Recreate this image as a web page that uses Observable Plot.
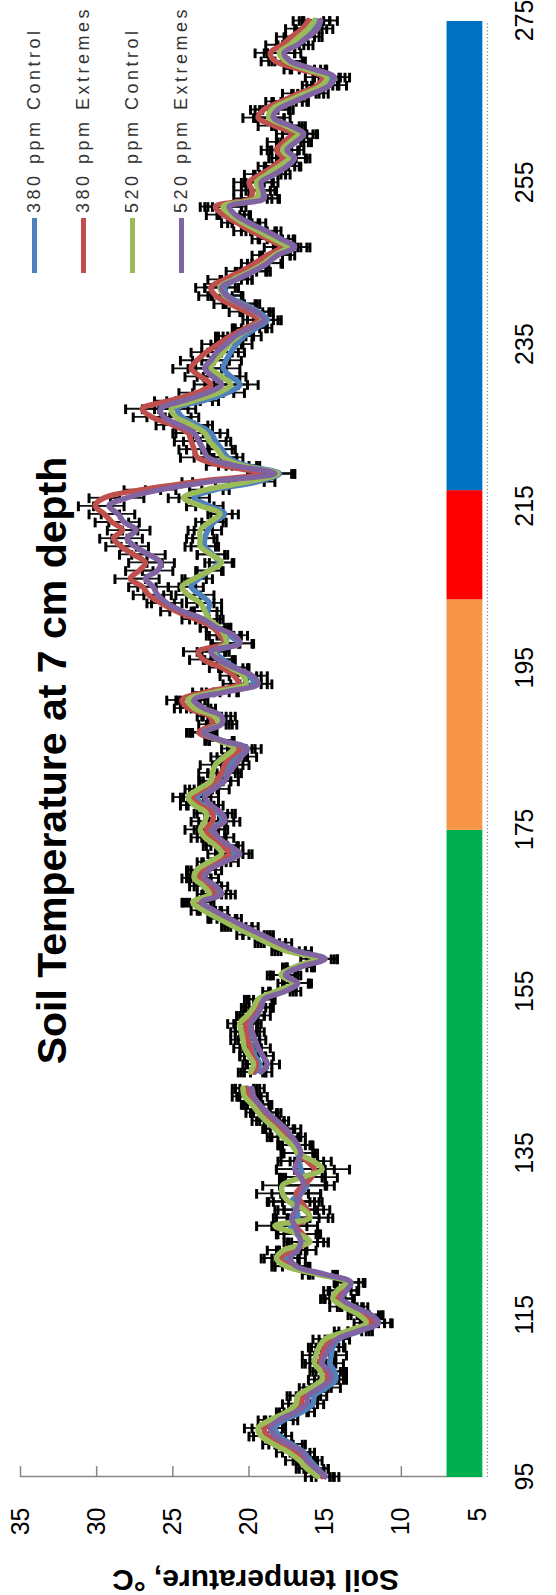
<!DOCTYPE html>
<html><head><meta charset="utf-8">
<script src="https://cdn.jsdelivr.net/npm/d3@7"></script>
<script src="https://cdn.jsdelivr.net/npm/@observablehq/plot@0.6"></script>
<style>
html,body{margin:0;padding:0;background:#fff;overflow:hidden;width:556px;height:1595px}
#rot{position:absolute;left:0;top:0;width:1595px;height:556px;transform-origin:0 0;transform:translate(0,1595px) rotate(-90deg);background:#fff}
#rot > svg{position:absolute;left:0;top:0}
#leg{position:absolute;left:1322px;top:10px;width:270px}
.lg-swatches{margin:0 !important;font-family:"Liberation Sans",Arial,sans-serif;font-size:18px;color:#333}
.lg-swatch{height:49px;display:flex;align-items:center;padding:0 !important}
.lg-swatch > svg{margin-right:5px !important}
.lg-swatch-label{overflow:visible !important;letter-spacing:3.5px}
</style></head>
<body><div id="rot"></div>
<script>
// ---- data ----
const title = "Soil Temperature at 7 cm depth";
const yTitle = "Soil temperature, \u00B0C";
const seriesNames = ["380 ppm Control", "380 ppm Extremes", "520 ppm Control", "520 ppm Extremes"];
const days = d3.range(95, 276); // day of year, 95 … 275
const xTicks = [95, 115, 135, 155, 175, 195, 215, 235, 255, 275];
const yTicks = [5, 10, 15, 20, 25, 30, 35];
const periodStart = [95, 175, 203.5, 217];
const periodEnd = [175, 203.5, 217, 275];

const t380Control = [
15.0,15.5,16.0,16.4,17.2,18.0,18.3,17.7,16.5,15.8,
15.7,14.9,14.3,14.4,14.7,14.6,14.5,14.1,12.7,11.6,
12.1,13.2,14.1,13.8,13.4,15.2,17.2,17.6,17.2,16.3,
16.9,17.3,16.8,16.9,17.2,16.6,16.2,16.4,16.6,16.7,
16.8,17.0,17.6,18.0,18.5,19.0,19.5,20.0,20.1,null,
19.6,19.3,19.6,19.8,20.0,20.1,20.2,19.8,19.4,19.2,
17.8,16.9,17.7,16.7,15.3,17.3,18.5,19.6,20.7,21.7,
22.6,23.3,22.1,22.6,23.2,23.0,22.1,21.0,21.6,22.3,
22.5,21.8,22.0,23.0,23.4,22.8,22.1,21.7,21.3,20.9,
20.5,21.8,23.0,21.9,22.1,23.3,23.8,21.8,19.7,20.0,
20.9,21.7,22.2,20.7,21.3,22.1,22.7,22.7,22.6,23.2,
23.8,23.3,22.6,22.0,22.4,22.9,22.9,22.7,22.3,21.6,
22.6,23.6,22.2,19.4,18.0,20.2,21.4,21.8,22.2,22.5,
23.4,24.4,24.7,23.0,21.4,20.6,21.2,21.7,21.5,21.2,
20.8,20.3,19.5,18.8,19.4,20.4,21.4,21.6,20.8,19.7,
18.8,18.2,17.2,18.2,19.2,20.2,21.0,21.6,19.3,19.2,
19.3,18.6,17.8,17.2,17.6,17.1,16.7,17.5,18.6,18.3,
17.3,16.1,15.0,14.7,16.1,17.5,17.9,17.1,16.5,15.9,
15.6];
const t380Extremes = [
15.2,15.9,16.4,16.9,17.9,18.8,19.0,18.3,17.1,16.6,
16.4,15.6,14.9,14.9,15.3,15.2,15.0,14.6,13.2,11.9,
12.4,13.4,14.1,13.8,13.4,15.2,17.3,17.9,17.2,16.1,
16.5,16.9,16.1,16.2,16.6,16.9,16.4,15.9,15.7,16.2,
16.8,17.0,17.6,18.0,18.6,19.0,19.5,20.0,20.2,null,
19.7,19.5,19.8,19.9,20.1,20.2,20.2,19.9,19.4,19.2,
17.9,16.9,17.6,16.7,15.2,17.2,18.4,19.5,20.6,21.7,
22.6,23.4,22.3,22.7,23.3,23.1,22.3,21.3,21.8,22.5,
22.8,22.4,22.4,23.2,23.7,23.0,22.2,21.8,21.6,21.2,
20.6,21.9,23.3,22.4,22.6,24.0,24.4,22.8,20.7,21.0,
21.8,23.0,23.3,21.6,21.9,22.4,23.5,24.8,25.8,26.6,
27.0,27.8,27.2,26.8,27.6,28.4,28.9,28.3,29.0,29.5,
30.1,29.5,27.0,23.3,19.2,21.8,23.4,23.6,23.8,24.0,
25.0,26.4,27.0,25.2,23.4,22.5,23.2,23.8,23.4,22.8,
22.0,21.2,20.2,19.4,20.2,21.3,22.2,22.5,21.6,20.5,
19.6,18.8,17.9,18.8,19.9,20.8,21.7,22.2,19.9,19.8,
20.0,19.2,18.4,17.8,18.2,17.7,17.2,18.3,19.4,19.0,
17.9,16.7,15.5,15.2,16.7,18.3,18.6,17.8,17.2,16.5,
16.1];
const t520Control = [
15.5,16.2,16.7,17.4,18.4,19.2,19.4,18.6,17.5,16.9,
16.8,15.9,15.2,15.3,15.7,15.6,15.4,15.0,13.5,12.3,
12.8,13.8,14.5,14.2,13.6,15.5,17.6,18.2,17.7,16.0,
16.8,18.3,16.0,16.4,17.4,17.8,17.8,16.5,15.2,15.8,
16.8,17.2,17.8,18.3,18.9,19.4,19.8,20.3,20.4,null,
19.9,19.7,20.0,20.3,20.4,20.5,20.6,20.1,19.7,19.4,
18.2,17.1,17.9,17.0,15.6,17.6,18.8,19.9,21.0,22.0,
23.0,23.7,22.6,23.0,23.6,23.4,22.6,21.8,22.2,22.9,
23.2,22.9,22.8,23.6,24.0,23.3,22.5,22.4,22.2,21.6,
21.0,22.0,23.0,22.0,22.3,23.6,24.0,22.2,20.2,20.4,
21.2,22.0,22.3,21.5,21.6,22.0,22.6,22.9,23.2,24.0,
24.4,23.6,22.6,21.8,22.5,23.2,23.2,23.2,22.6,21.9,
23.2,24.3,22.8,20.0,18.1,20.5,21.7,22.1,22.6,22.9,
23.8,24.8,25.1,23.6,22.0,21.2,21.8,22.5,22.2,21.7,
21.3,20.7,19.9,19.1,19.6,20.6,21.6,21.9,21.0,19.9,
19.0,18.3,17.5,18.4,19.4,20.4,21.2,21.7,19.5,19.4,
19.5,18.8,18.0,17.4,17.8,17.3,16.8,17.6,18.7,18.5,
17.5,16.3,15.2,14.9,16.3,17.6,18.0,17.3,16.7,16.1,
15.7];
const t520Extremes = [
15.0,15.6,16.2,16.5,17.4,18.3,18.6,18.0,16.9,16.2,
16.1,15.3,14.6,14.7,15.2,15.0,14.7,14.2,12.8,11.5,
12.0,13.1,13.9,13.6,13.3,15.0,16.9,17.3,16.8,16.6,
16.8,17.0,17.2,16.9,16.8,16.6,16.4,16.6,17.0,16.8,
16.6,16.8,17.2,17.6,18.2,18.8,19.3,19.7,19.8,null,
19.2,18.8,19.1,19.4,19.6,19.8,19.9,19.5,19.2,19.0,
17.6,16.8,17.6,16.6,15.0,16.9,18.1,19.2,20.3,21.3,
22.3,23.1,21.8,22.2,22.9,22.6,21.6,20.6,21.3,22.0,
22.3,21.6,21.8,22.5,22.9,22.3,21.6,21.3,20.9,20.5,
20.1,21.8,23.0,21.8,21.8,23.0,23.6,21.5,19.4,19.8,
21.0,22.0,22.5,20.6,21.0,22.2,23.0,24.4,25.4,26.0,
26.3,26.8,26.0,25.8,26.6,27.5,28.0,27.4,28.2,28.6,
29.2,28.0,25.8,22.5,18.3,21.0,22.7,23.0,23.3,23.6,
24.6,25.6,25.8,24.3,22.7,21.8,22.4,22.9,22.5,22.1,
21.5,20.9,19.9,19.0,19.6,20.6,21.5,21.8,20.8,19.7,
18.8,18.1,17.0,17.9,18.9,20.0,20.9,21.3,19.0,19.1,
19.2,18.3,17.5,17.0,17.5,16.9,16.4,17.3,18.4,18.1,
17.0,15.8,14.7,14.4,15.8,17.3,17.7,16.8,16.1,15.5,
15.3];

const e380Control = [
0.6,0.7,0.8,0.7,0.9,0.8,0.7,0.9,0.8,0.7, 0.8,0.9,0.7,0.8,0.9,1.0,0.8,0.7,0.8,0.9,
0.8,0.7,0.9,1.0,0.9,0.8,1.1,0.9,1.0,1.2, 1.3,1.1,1.4,1.2,1.5,1.3,1.8,1.4,1.6,1.2,
1.1,1.0,0.9,1.0,0.8,0.9,0.8,0.7,0.8,null, 0.7,0.8,0.7,0.6,0.7,0.8,0.7,0.8,0.9,0.8,
0.9,0.8,0.9,0.8,0.9,1.0,0.9,0.8,0.9,0.8, 0.7,0.8,0.9,0.8,0.7,0.8,0.9,1.0,0.9,0.8,
0.9,0.8,0.9,1.0,0.9,0.8,0.9,1.0,0.9,0.8, 0.9,0.8,0.7,0.8,0.9,0.8,0.9,1.0,0.9,0.8,
0.9,0.8,0.9,1.0,0.8,0.7,0.8,0.9,0.8,0.9, 0.8,0.9,0.8,0.9,1.0,0.9,0.8,0.9,0.8,0.9,
0.9,1.0,0.9,1.1,1.0,0.9,1.0,0.9,1.0,1.1, 1.0,1.1,1.2,1.0,1.1,1.2,1.0,1.1,1.0,0.9,
1.0,1.1,1.0,0.9,1.0,1.1,1.0,0.9,1.0,1.1, 1.0,0.9,1.0,1.1,1.0,0.9,1.0,1.1,1.2,1.0,
0.9,1.0,1.1,1.0,0.9,1.0,1.1,1.0,0.9,1.0, 1.1,1.0,0.9,1.0,1.1,1.0,0.9,1.0,1.1,1.0,
0.9];
const e380Extremes = [
0.7,0.8,0.7,0.9,0.8,0.9,0.8,0.7,0.9,0.8, 0.9,0.8,0.8,0.9,1.0,0.8,0.9,0.8,0.9,0.8,
0.9,0.8,1.0,0.9,1.0,0.9,1.0,1.1,0.9,1.3, 1.2,1.4,1.3,1.5,1.2,1.6,1.4,1.7,1.3,1.1,
1.0,1.1,1.0,0.9,0.9,0.8,0.9,0.8,0.7,null, 0.8,0.7,0.8,0.7,0.8,0.7,0.8,0.9,0.8,0.9,
0.8,0.9,1.0,0.9,1.0,0.9,0.8,0.9,0.8,0.9, 0.8,0.9,0.8,0.9,0.8,0.9,0.8,0.9,1.0,0.9,
0.8,0.9,1.0,0.9,0.8,0.9,1.0,0.9,0.8,0.9, 0.8,0.9,0.8,0.9,0.8,0.9,1.0,0.9,1.0,0.9,
0.8,0.9,1.0,0.9,0.9,0.8,0.9,1.0,0.9,1.0, 0.9,1.0,0.9,1.1,0.9,1.0,0.9,1.0,1.1,1.0,
1.1,1.0,1.2,1.1,0.9,1.0,1.1,1.0,1.1,1.0, 1.1,1.2,1.1,1.0,1.2,1.1,1.0,1.2,1.1,1.0,
1.1,1.0,0.9,1.0,1.1,1.0,1.1,1.0,1.1,1.0, 0.9,1.0,1.1,1.0,1.1,1.0,1.1,1.0,1.1,1.2,
1.0,1.1,1.0,0.9,1.0,1.1,1.0,1.1,1.0,0.9, 1.0,1.1,1.0,1.1,1.0,0.9,1.0,1.1,1.0,1.1,
1.0];
const e520Control = [
0.8,0.7,0.9,0.8,0.7,0.8,0.9,0.8,0.7,0.9, 0.7,0.8,0.9,0.7,0.8,0.9,0.7,0.8,0.9,0.8,
0.7,0.9,0.8,0.9,0.8,1.0,0.9,1.0,1.1,1.2, 1.4,1.2,1.5,1.3,1.4,1.7,1.3,1.5,1.8,1.2,
1.0,0.9,1.0,0.8,0.9,0.8,0.7,0.8,0.7,null, 0.8,0.7,0.6,0.7,0.8,0.7,0.8,0.7,0.8,0.9,
0.9,1.0,0.9,0.8,1.0,0.9,0.8,0.9,0.8,0.7, 0.8,0.7,0.8,0.9,0.8,0.7,0.8,0.9,0.8,0.9,
1.0,0.9,0.8,0.9,1.0,0.9,0.8,0.9,1.0,0.9, 0.8,0.9,0.8,0.7,0.8,0.9,0.8,0.9,1.0,0.9,
0.8,0.9,0.8,0.9,1.0,0.8,0.9,0.8,0.9,0.8, 0.9,0.8,0.9,0.8,0.9,1.0,0.9,0.8,0.9,0.8,
0.9,1.0,1.1,1.0,1.1,1.0,0.9,1.0,1.1,1.0, 1.1,1.0,1.1,1.2,1.0,1.1,1.2,1.0,0.9,1.0,
0.9,1.0,1.1,1.0,0.9,1.0,1.1,1.0,0.9,1.0, 1.1,1.0,0.9,1.0,1.1,1.0,0.9,1.2,1.0,1.1,
1.0,0.9,1.0,1.1,1.0,0.9,1.0,0.9,1.0,1.1, 1.0,0.9,1.0,0.9,1.0,1.1,1.0,0.9,1.0,0.9,
1.0];
const e520Extremes = [
0.9,0.8,0.7,0.8,0.9,0.7,0.8,0.9,0.8,0.7, 0.8,0.7,0.8,0.9,0.8,0.7,0.9,0.8,0.7,0.9,
0.8,0.9,0.8,0.7,0.9,0.8,0.9,1.0,1.2,1.1, 1.3,1.5,1.2,1.4,1.6,1.3,1.5,1.4,1.2,1.3,
1.1,1.0,0.9,1.0,0.8,0.9,0.8,0.9,0.8,null, 0.7,0.8,0.7,0.8,0.7,0.8,0.7,0.9,0.8,0.7,
1.0,0.9,0.8,0.9,0.8,1.0,0.9,0.8,0.9,0.8, 0.9,0.8,0.9,0.8,0.9,0.8,0.9,0.8,0.9,1.0,
0.9,1.0,0.9,0.8,0.9,1.0,0.9,0.8,0.9,1.0, 0.9,0.8,0.9,1.0,0.9,0.8,0.9,0.8,0.9,1.0,
0.9,1.0,0.9,0.8,0.9,1.0,0.9,0.8,1.0,0.9, 1.0,0.9,1.0,0.9,1.1,0.9,1.0,0.9,1.0,1.1,
1.0,1.1,1.0,1.2,1.1,1.0,0.9,1.1,1.0,1.2, 1.0,1.1,1.2,1.1,1.0,1.1,1.0,1.1,1.2,1.0,
1.0,1.1,1.0,1.1,1.0,1.1,1.0,1.1,1.0,0.9, 1.0,1.1,1.0,0.9,1.0,1.1,1.0,1.1,1.0,0.9,
1.1,1.0,0.9,1.0,1.1,1.0,0.9,1.0,1.1,1.0, 0.9,1.0,1.1,1.0,0.9,1.0,1.1,1.0,0.9,1.0,
1.1];

// ---- styles ----
const seriesColors = ["#4F81BD", "#C0504D", "#9BBB59", "#8064A2"];
const periodColors = ["#00B050", "#F79646", "#FF0000", "#0070C0"];
const font = "'Liberation Sans', Arial, sans-serif";

const temps = [t380Control, t380Extremes, t520Control, t520Extremes];
const errs = [e380Control, e380Extremes, e520Control, e520Extremes];
const rows = [];
seriesNames.forEach((name, s) => {
  days.forEach((day, i) => {
    const t = temps[s][i];
    rows.push({series: name, day, t: t == null ? NaN : t, e: errs[s][i] == null ? NaN : errs[s][i]});
  });
});
const valid = rows.filter(r => Number.isFinite(r.t));
const periods = periodStart.map((s, i) => ({start: s, end: periodEnd[i], color: periodColors[i]}));

const lineMarks = seriesNames.map((name, s) =>
  Plot.line(rows.filter(r => r.series === name), {
    x: "day", y: "t", stroke: seriesColors[s], strokeWidth: 5.5,
    curve: "catmull-rom", strokeLinejoin: "round", strokeLinecap: "round"
  })
);

const chart = Plot.plot({
  width: 1595, height: 556,
  marginLeft: 118, marginRight: 21, marginTop: 20, marginBottom: 79,
  x: {domain: [95, 275], axis: null},
  y: {domain: [5, 35], axis: null},
  color: {type: "identity"},
  style: {fontFamily: font, background: "white", overflow: "visible"},
  marks: [
    // dotted category axis
    Plot.ruleY([4.35], {x1: 95, x2: 275, stroke: "#8a8a8a", strokeWidth: 1.2, strokeDasharray: "1.2,2.3"}),
    // value axis line and inward ticks
    Plot.ruleX([95], {y1: 4.65, y2: 35, stroke: "#868686", strokeWidth: 1.5}),
    Plot.ruleY(yTicks, {y: d => d, x1: 95, x2: 96.35, stroke: "#868686", strokeWidth: 1.5}),
    // period bar
    Plot.rect(periods, {x1: "start", x2: "end", y1: 4.65, y2: 7, fill: "color"}),
    // error bars
    Plot.ruleX(valid, {x: "day", y1: d => d.t - d.e, y2: d => d.t + d.e, stroke: "#111", strokeWidth: 1.8}),
    Plot.ruleY(valid, {y: d => d.t + d.e, x1: d => d.day - 0.6, x2: d => d.day + 0.6, stroke: "black", strokeWidth: 3}),
    Plot.ruleY(valid, {y: d => d.t - d.e, x1: d => d.day - 0.6, x2: d => d.day + 0.6, stroke: "black", strokeWidth: 3}),
    // series lines
    ...lineMarks,
    // tick labels
    Plot.text(yTicks, {x: 95, y: d => d, text: d => String(d), textAnchor: "end", dx: -31, fontSize: 25, fill: "black"}),
    Plot.text(xTicks, {x: d => d, y: 5, text: d => String(d), dy: 47, fontSize: 25, fill: "black"}),
    // titles
    Plot.text([title], {frameAnchor: "top", text: d => d, dy: 32, dx: -12, lineAnchor: "middle", fontSize: 41, fontWeight: "bold", fill: "black"}),
    Plot.text([yTitle], {frameAnchor: "left", text: d => d, dx: -103, dy: 6.5, rotate: -90, lineAnchor: "middle", textAnchor: "middle", fontSize: 30, fontWeight: "bold", fill: "black"})
  ]
});

const rot = document.getElementById("rot");
rot.appendChild(chart);

const legend = Plot.legend({
  color: {domain: seriesNames, range: seriesColors},
  legend: "swatches", columns: 1, swatchWidth: 55, swatchHeight: 5, className: "lg"
});
const legWrap = document.createElement("div");
legWrap.id = "leg";
legWrap.appendChild(legend);
rot.appendChild(legWrap);
</script></body></html>
